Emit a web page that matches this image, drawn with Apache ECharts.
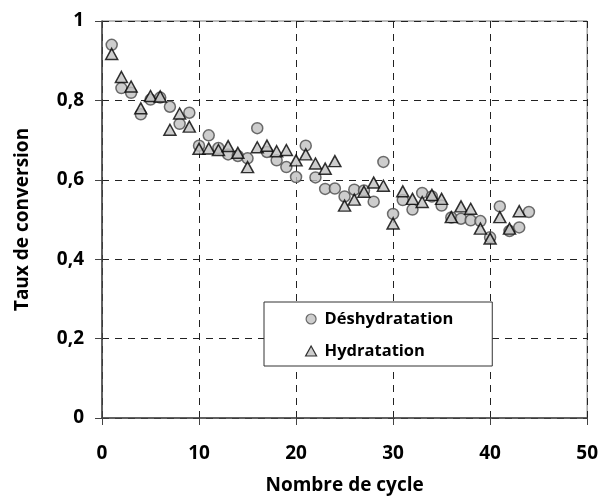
<!DOCTYPE html>
<html>
<head>
<meta charset="utf-8">
<script src="https://cdn.jsdelivr.net/npm/echarts@6/dist/echarts.min.js"></script>
<style>
  html, body { margin: 0; padding: 0; background: #fff; }
  #chart { width: 601px; height: 500px; }
</style>
</head>
<body>
<div id="chart"></div>
<script>
// cycle numbers
const cycles = [
  1, 2, 3, 4, 5, 6, 7, 8, 9, 10,
  11, 12, 13, 14, 15, 16, 17, 18, 19, 20,
  21, 22, 23, 24, 25, 26, 27, 28, 29, 30,
  31, 32, 33, 34, 35, 36, 37, 38, 39, 40,
  41, 42, 43, 44
];
// Déshydratation (circles)
const deshydratation = [
  0.940, 0.831, 0.819, 0.765, 0.802, 0.807, 0.784, 0.741, 0.769, 0.686,
  0.712, 0.680, 0.664, 0.660, 0.654, 0.730, 0.670, 0.649, 0.632, 0.607,
  0.686, 0.606, 0.577, 0.578, 0.558, 0.575, 0.573, 0.545, 0.645, 0.514,
  0.549, 0.525, 0.567, 0.558, 0.535, 0.505, 0.502, 0.498, 0.496, 0.455,
  0.533, 0.471, 0.480, 0.519
];
// Hydratation (triangles), no point at cycle 44
const hydratation = [
  0.917, 0.859, 0.835, 0.780, 0.811, 0.810, 0.726, 0.767, 0.734, 0.678,
  0.679, 0.675, 0.685, 0.668, 0.632, 0.682, 0.686, 0.672, 0.675, 0.649,
  0.664, 0.641, 0.628, 0.647, 0.535, 0.550, 0.570, 0.593, 0.585, 0.490,
  0.571, 0.552, 0.544, 0.562, 0.552, 0.506, 0.533, 0.527, 0.477, 0.452,
  0.506, 0.477, 0.521
];

const FONT = "Open Sans";
const pairs = (xs, ys) => ys.map((y, i) => [xs[i], y]);

const chart = echarts.init(document.getElementById("chart"), null, { renderer: "canvas" });

const gridLine = {
  show: true,
  lineStyle: { color: "#222", width: 1, type: [7, 6] }
};

const option = {
  animation: false,
  backgroundColor: "#fff",
  textStyle: { fontFamily: FONT },
  grid: {
    left: 102,
    right: 12,
    top: 21,
    bottom: 77,
    show: true,
    borderColor: "#777",
    borderWidth: 1
  },
  legend: {
    orient: "vertical",
    left: 264,
    top: 302,
    padding: [7, 39, 5, 41],
    itemGap: 12,
    itemWidth: 11,
    itemHeight: 10,
    backgroundColor: "#fff",
    borderColor: "#333",
    borderWidth: 1,
    textStyle: {
      fontFamily: FONT,
      fontWeight: "bold",
      fontSize: 16.5,
      color: "#000",
      lineHeight: 20,
      padding: [0, 0, 0, 3]
    },
    data: [
      {
        name: "Déshydratation",
        icon: "circle",
        itemStyle: { color: "#c0c0c0", borderColor: "#4a4a4a", borderWidth: 1.2 }
      },
      {
        name: "Hydratation",
        icon: "triangle",
        itemStyle: { color: "#c0c0c0", borderColor: "#000", borderWidth: 1.2 }
      }
    ]
  },
  xAxis: {
    type: "value",
    min: 0,
    max: 50,
    interval: 10,
    name: "Nombre de cycle",
    nameLocation: "middle",
    nameGap: 58,
    nameTextStyle: { fontFamily: FONT, fontWeight: "bold", fontSize: 19, color: "#000" },
    axisLine: { show: true, onZero: false, lineStyle: { color: "#444", width: 1.5 } },
    axisTick: { show: true, inside: false, length: 7, lineStyle: { color: "#444" } },
    axisLabel: { margin: 26, fontFamily: FONT, fontWeight: "bold", fontSize: 19, color: "#000" },
    splitLine: gridLine
  },
  yAxis: {
    type: "value",
    min: 0,
    max: 1,
    interval: 0.2,
    name: "Taux de conversion",
    nameLocation: "middle",
    nameGap: 70,
    nameTextStyle: { fontFamily: FONT, fontWeight: "bold", fontSize: 19, color: "#000" },
    axisLine: { show: true, onZero: false, lineStyle: { color: "#444", width: 1.5 } },
    axisTick: { show: true, inside: false, length: 7, lineStyle: { color: "#444" } },
    axisLabel: {
      margin: 18,
      fontFamily: FONT,
      fontWeight: "bold",
      fontSize: 19,
      color: "#000",
      formatter: v => String(Math.round(v * 10) / 10).replace(".", ",")
    },
    splitLine: gridLine
  },
  series: [
    {
      name: "Déshydratation",
      type: "scatter",
      symbol: "circle",
      symbolSize: 11,
      itemStyle: { color: "#c0c0c0", borderColor: "#4a4a4a", borderWidth: 1.5 },
      data: pairs(cycles, deshydratation)
    },
    {
      name: "Hydratation",
      type: "scatter",
      symbol: "triangle",
      symbolSize: [12, 11],
      itemStyle: { color: "#c0c0c0", borderColor: "#000", borderWidth: 1.5 },
      data: pairs(cycles, hydratation)
    }
  ]
};

chart.setOption(option);
</script>
</body>
</html>
